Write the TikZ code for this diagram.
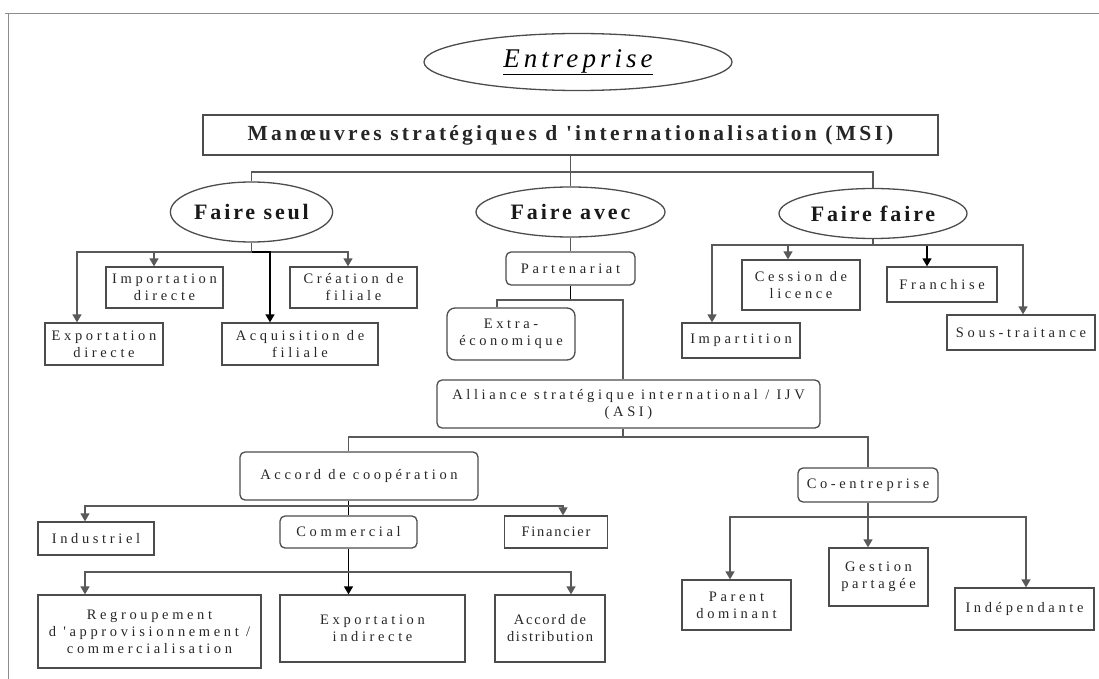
\documentclass[tikz,border=0pt]{standalone}
\usepackage{fontspec}
\setmainfont{Liberation Serif}
\newfontfamily\boxfont[LetterSpace=25]{Liberation Serif}
\newfontfamily\tightfont[LetterSpace=12]{Liberation Serif}
\newfontfamily\headfont[LetterSpace=13]{Liberation Serif}
\newfontfamily\msifont[LetterSpace=15]{Liberation Serif}
\newfontfamily\entfont[LetterSpace=15]{Liberation Serif}
\usetikzlibrary{shapes.geometric,arrows.meta}
\begin{document}
\begin{tikzpicture}[x=1pt,y=-1pt,
 line/.style={draw=black!65, line width=1.3pt},
 arr/.style={line, -{Triangle[width=9pt,length=8pt]}},
 box/.style={draw=black!70, line width=1.3pt, inner sep=0pt, align=center, font=\boxfont\fontsize{14.5}{17}\selectfont, text=black!85},
 tbox/.style={box, font=\tightfont\fontsize{14.5}{17}\selectfont},
 rbox/.style={box, rounded corners=5pt},
 ell/.style={ellipse, draw=black!70, line width=1.3pt, inner sep=0pt, text=black!90, font=\headfont\bfseries\fontsize{22}{24}\selectfont}
]
\useasboundingbox (0,0) rectangle (1099,679);
\draw[black!45, line width=0.8pt] (5,13) -- (1099,13);
\draw[black!45, line width=0.8pt] (8,13) -- (8,679);

% top
\node[ellipse, draw=black!70, line width=1.3pt, inner sep=0pt, minimum width=308pt, minimum height=57pt, font=\entfont\itshape\fontsize{27}{30}\selectfont] (ent) at (578,62) {\underline{Entreprise}};
\node[box, minimum width=735pt, minimum height=40pt, font=\msifont\bfseries\fontsize{21.5}{24}\selectfont] (msi) at (570.5,135) {Manœuvres stratégiques d 'internationalisation (MSI)};

\node[ell, minimum width=157pt, minimum height=60pt] (seul) at (251.5,212) {Faire seul};
\node[ell, minimum width=189pt, minimum height=50pt] (avec) at (570.5,212) {Faire avec};
\node[ell, minimum width=188pt, minimum height=50pt] (faire) at (873,213.5) {Faire faire};

% faire seul
\node[box, minimum width=117pt, minimum height=41pt] (imp) at (164.5,287.5) {Importation\\directe};
\node[box, minimum width=127pt, minimum height=41pt] (crea) at (353.5,287.5) {Création de\\filiale};
\node[box, minimum width=118pt, minimum height=42pt] (expd) at (104,344) {Exportation\\directe};
\node[box, minimum width=156pt, minimum height=42pt] (acq) at (300,344) {Acquisition de\\filiale};

% faire faire
\node[box, minimum width=118pt, minimum height=35pt] (imprt) at (741,340.5) {Impartition};
\node[box, minimum width=118pt, minimum height=50pt] (cess) at (801,285) {Cession de\\licence};
\node[box, minimum width=110pt, minimum height=35pt] (fran) at (942,284.5) {Franchise};
\node[box, minimum width=148pt, minimum height=35pt] (sous) at (1021,332.5) {Sous-traitance};

% faire avec
\node[rbox, minimum width=129pt, minimum height=33pt] (part) at (570.5,268.5) {Partenariat};
\node[rbox, rounded corners=8pt, minimum width=128pt, minimum height=52pt] (extra) at (511,334) {Extra-\\économique};
\node[rbox, minimum width=383pt, minimum height=48pt] (asi) at (628.5,404) {Alliance stratégique international / IJV\\(ASI)};
\node[rbox, minimum width=238pt, minimum height=48pt] (acc) at (359,476) {Accord de coopération};
\node[rbox, minimum width=140pt, minimum height=34pt] (coe) at (868,485) {Co-entreprise};

\node[box, minimum width=116pt, minimum height=33pt] (ind) at (96,538.5) {Industriel};
\node[rbox, minimum width=137pt, minimum height=32pt] (com) at (348.5,532) {Commercial};
\node[tbox, minimum width=103pt, minimum height=32pt] (fin) at (556,532) {Financier};

\node[box, minimum width=223pt, minimum height=73pt] (reg) at (149.5,631.5) {Regroupement\\d 'approvisionnement /\\commercialisation};
\node[box, minimum width=185pt, minimum height=67pt] (expi) at (372.5,628.5) {Exportation\\indirecte};
\node[tbox, minimum width=110pt, minimum height=67pt] (dist) at (550,628.5) {Accord de\\distribution};

\node[box, minimum width=109pt, minimum height=50pt] (par) at (736.5,605) {Parent\\dominant};
\node[box, minimum width=99pt, minimum height=58pt] (ges) at (878.5,577) {Gestion\\partagée};
\node[box, minimum width=139pt, minimum height=42pt] (inde) at (1024.5,609) {Indépendante};

% connectors: MSI
\coordinate (mb) at (570.5,172);
\draw[line] (msi.south) -- (avec.north);
\draw[line] (mb) -| (seul.north);
\draw[line] (mb) -| (faire.north);

% faire seul
\coordinate (sb) at (251.5,252);
\draw[line] (seul.south) -- (sb);
\draw[arr] (sb) -| ([xshift=-10.5pt]imp.north);
\draw[arr] (sb) -| ([xshift=-5.5pt]crea.north);
\draw[arr] (sb) -| ([xshift=-27pt]expd.north);
\draw[arr, draw=black] (sb) -| ([xshift=-30pt]acq.north);

% faire faire
\coordinate (fb) at (873,245);
\draw[line] (faire.south) -- (fb);
\draw[arr] (fb) -| ([xshift=-29pt]imprt.north);
\draw[arr] (fb) -| ([xshift=-13pt]cess.north);
\draw[arr, draw=black] (fb) -| ([xshift=-15pt]fran.north);
\draw[arr] (fb) -| ([xshift=2pt]sous.north);

% faire avec
\draw[line] (avec.south) -- (part.north);
\coordinate (pb) at (570.5,300);
\draw[line, draw=black] (part.south) -- (pb);
\draw[line] (pb) -| ([xshift=-14pt]extra.north);
\draw[line] (pb) -| ([xshift=-5.5pt]asi.north);

% ASI
\coordinate (ab) at (623,437);
\draw[line] ([xshift=-5.5pt]asi.south) -- (ab);
\draw[line] (ab) -| ([xshift=-10.5pt]acc.north);
\draw[line] (ab) -| (coe.north);

% accord
\coordinate (cb) at (348.5,506);
\draw[line, draw=black] ([xshift=-10.5pt]acc.south) -- (cb);
\draw[line, draw=black] (cb) -- (com.north);
\draw[arr] (cb) -| ([xshift=-11pt]ind.north);
\draw[arr] (cb) -| ([xshift=7pt]fin.north);

% commercial
\coordinate (mb2) at (348.5,572);
\draw[arr, draw=black] (com.south) -- ([xshift=-24pt]expi.north);
\draw[arr] (mb2) -| ([xshift=-64.5pt]reg.north);
\draw[arr] (mb2) -| ([xshift=21pt]dist.north);

% co-entreprise
\coordinate (eb) at (868,517);
\draw[line] (coe.south) -- (eb);
\draw[arr] (eb) -| ([xshift=-10.5pt]ges.north);
\draw[arr] (eb) -| ([xshift=-6.5pt]par.north);
\draw[arr] (eb) -| ([xshift=1.5pt]inde.north);
\end{tikzpicture}
\end{document}
